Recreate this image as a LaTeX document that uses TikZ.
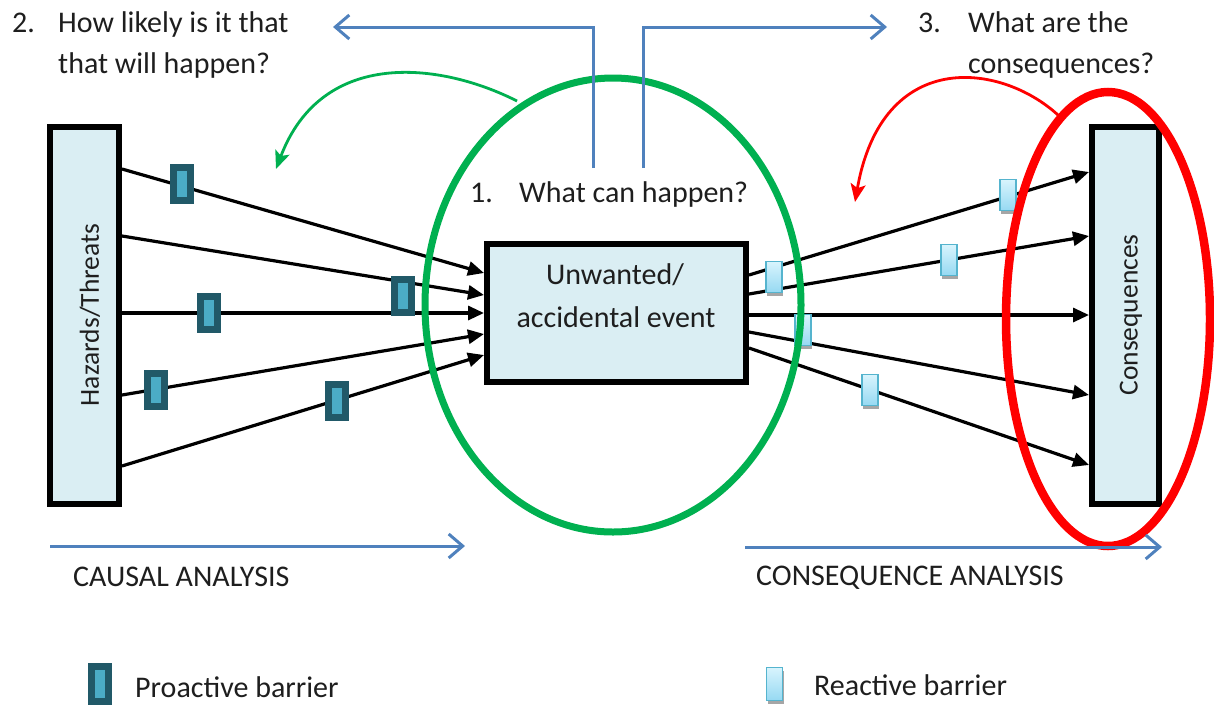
\documentclass[tikz,border=0pt]{standalone}
\usepackage{fontspec}
\setmainfont{Carlito}
\usetikzlibrary{arrows.meta}

\definecolor{boxfill}{HTML}{DAEEF3}
\definecolor{flowblue}{HTML}{4F81BD}
\definecolor{prodark}{HTML}{215968}
\definecolor{prolight}{HTML}{4BACC6}
\definecolor{reacttop}{HTML}{D8F4FD}
\definecolor{reactbot}{HTML}{96D9F2}
\definecolor{reactedge}{HTML}{55B4CE}
\definecolor{ringgreen}{HTML}{00B050}
\definecolor{ringred}{HTML}{FF0000}
\definecolor{inktext}{HTML}{1E1E1E}

\begin{document}
\begin{tikzpicture}[x=1pt,y=-1pt,
  txt/.style={font=\fontsize{30}{36}\selectfont, text=inktext, inner sep=0pt},
  sidetxt/.style={font=\fontsize{27.5}{32}\selectfont, text=inktext, inner sep=0pt, rotate=90},
  mainbox/.style={draw=black, line width=6pt, fill=boxfill, inner sep=0pt},
  flow/.style={draw=black, line width=3.2pt, -{Triangle[length=16pt,width=14pt]}},
  proactive/.style={draw=prodark, fill=prolight, line width=7pt,
    minimum width=17pt, minimum height=33pt, inner sep=0pt},
  reactive/.style={draw=reactedge, line width=1.6pt, top color=reacttop, bottom color=reactbot,
    minimum width=16pt, minimum height=31pt, inner sep=0pt,
    preaction={fill=black!35, transform canvas={xshift=1pt, yshift=-3pt}}},
  steparrow/.style={draw=flowblue, line width=3pt, -{Straight Barb[length=14pt,width=24pt]}},
  loop/.style={line width=2.8pt, -{Stealth[length=18pt,width=15pt,inset=4pt]}},
]
\useasboundingbox (0,0) rectangle (1214,705);
\clip (0,0) rectangle (1214,705);

% the three main boxes
\node[mainbox, minimum width=69pt, minimum height=377pt] (hz) at (84.5,315.5) {};
\node[mainbox, minimum width=259pt, minimum height=138pt] (ev) at (616.5,313) {};
\node[mainbox, minimum width=67pt, minimum height=377pt] (cq) at (1125.5,315.5) {};

\node[sidetxt] (hzt) at (90,315) {Hazards/Threats};
\node[sidetxt] (cqt) at (1131,315) {Consequences};
\node[txt, anchor=base] (evt1) at (615,284) {Unwanted/};
\node[txt, anchor=base] (evt2) at (616,327) {accidental event};

% causes: hazards -> event
\draw[flow] (hz.east |- 0,169) -- (ev.west |- 0,273);
\draw[flow] (hz.east |- 0,236) -- (ev.west |- 0,295);
\draw[flow] (hz.east |- 0,313) -- (ev.west |- 0,313);
\draw[flow] (hz.east |- 0,395) -- (ev.west |- 0,334);
\draw[flow] (hz.east |- 0,466) -- (ev.west |- 0,355);

% consequences: event -> consequences
\draw[flow] (ev.east |- 0,275) -- (cq.west |- 0,172);
\draw[flow] (ev.east |- 0,294) -- (cq.west |- 0,236);
\draw[flow] (ev.east |- 0,315) -- (cq.west |- 0,315);
\draw[flow] (ev.east |- 0,332) -- (cq.west |- 0,395);
\draw[flow] (ev.east |- 0,348) -- (cq.west |- 0,465);

% proactive barriers
\node[proactive] (pb1) at (182,184) {};
\node[proactive] (pb2) at (403,296) {};
\node[proactive] (pb3) at (209,313) {};
\node[proactive] (pb4) at (156,390) {};
\node[proactive] (pb5) at (337,401) {};

% reactive barriers
\node[reactive] (rb1) at (774,277) {};
\node[reactive] (rb2) at (803,330) {};
\node[reactive] (rb3) at (870,390) {};
\node[reactive] (rb4) at (1008,195) {};
\node[reactive] (rb5) at (949,260) {};

% highlight rings
\draw[ringgreen, line width=7pt] (613,305) ellipse [x radius=188, y radius=227];
\draw[ringred, line width=8.5pt] (1108,319) ellipse [x radius=102, y radius=227];

% curved pointers from the rings
\coordinate (gs) at (517,101);
\coordinate (ge) at (276,169);
\draw[loop, ringgreen] (gs) .. controls (440,62) and (322,48) .. (ge);
\coordinate (rs) at (1058,115);
\coordinate (re) at (855,202);
\draw[loop, ringred] (rs) .. controls (1000,62) and (882,48) .. (re);

% question arrows at the top
\coordinate (qls) at (593,168);
\coordinate (qle) at (333,27);
\coordinate (qrs) at (643,168);
\coordinate (qre) at (887,27);
\draw[steparrow] (qls) |- (qle);
\draw[steparrow] (qrs) |- (qre);

% questions
\node[txt, anchor=base west] (q2n) at (12,32) {2.};
\node[txt, anchor=base west] (q2a) at (58,32) {How likely is it that};
\node[txt, anchor=base west] (q2b) at (58,73) {that will happen?};
\node[txt, anchor=base west] (q3n) at (918,32) {3.};
\node[txt, anchor=base west] (q3a) at (968,32) {What are the};
\node[txt, anchor=base west] (q3b) at (968,73) {consequences?};
\node[txt, anchor=base west] (q1n) at (470,202) {1.};
\node[txt, anchor=base west] (q1a) at (519,202) {What can happen?};

% analysis directions
\coordinate (cas) at (50,546);
\coordinate (cae) at (465,546);
\coordinate (css) at (745,547);
\coordinate (cse) at (1162,547);
\draw[steparrow] (cas) -- (cae);
\draw[steparrow] (css) -- (cse);
\node[txt, anchor=base west] (cal) at (73,586) {CAUSAL ANALYSIS};
\node[txt, anchor=base west] (csl) at (756,585) {CONSEQUENCE ANALYSIS};

% legend
\node[proactive, minimum height=35pt] (lgp) at (100,684) {};
\node[txt, anchor=base west] (lgpt) at (135,697) {Proactive barrier};
\node[reactive, minimum height=33pt] (lgr) at (774.5,684) {};
\node[txt, anchor=base west] (lgrt) at (814,695) {Reactive barrier};
\end{tikzpicture}
\end{document}
